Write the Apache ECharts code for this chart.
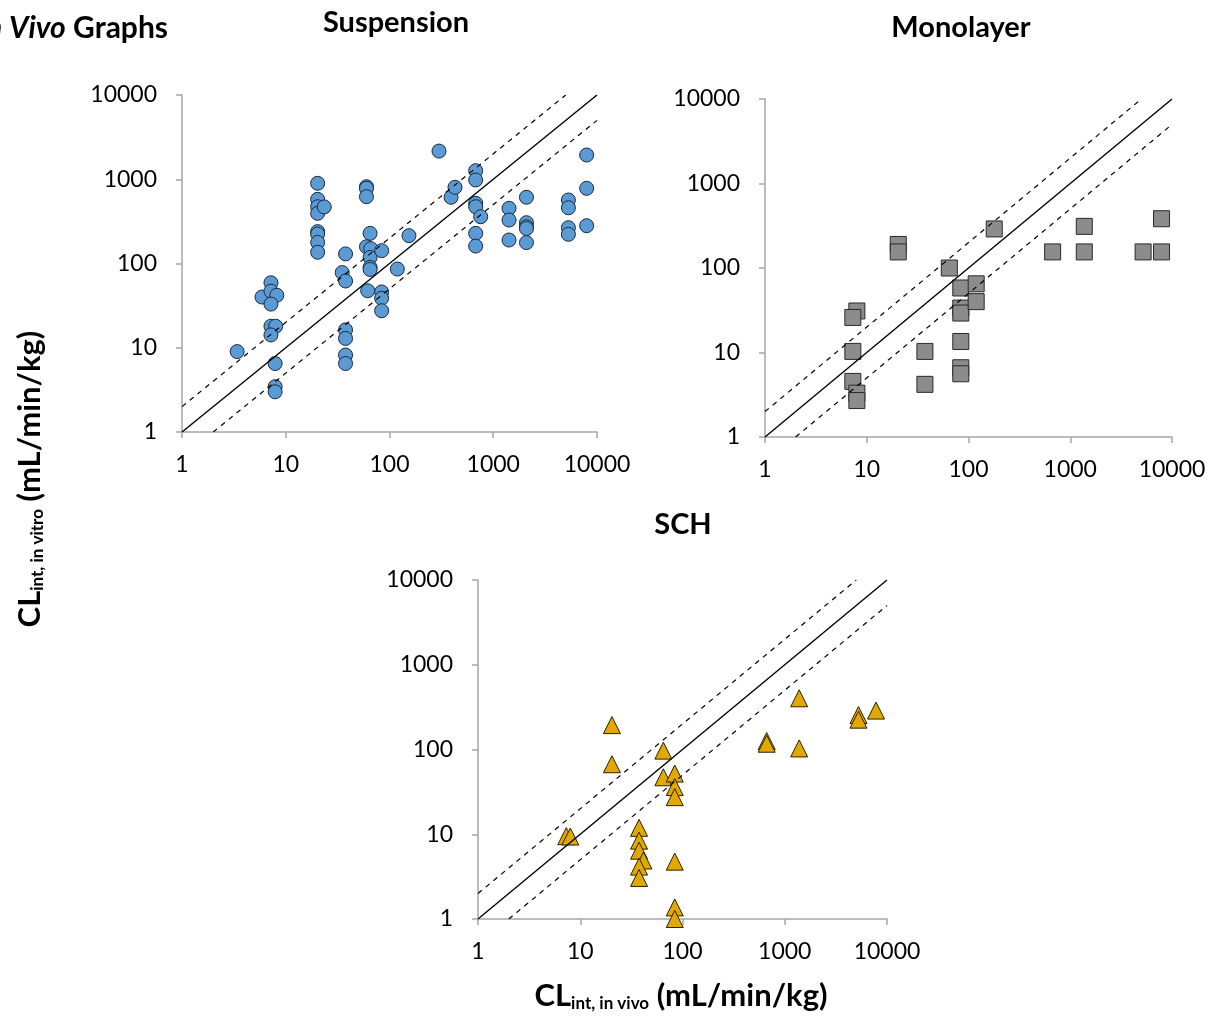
<!DOCTYPE html>
<html>
<head>
<meta charset="utf-8">
<script src="https://cdn.jsdelivr.net/npm/echarts@6/dist/echarts.min.js"></script>
<style>
  html, body { margin: 0; padding: 0; background: #ffffff; }
  #chart { width: 1210px; height: 1016px; }
</style>
</head>
<body>
<div id="chart"></div>
<script>
// CLint in vitro vs CLint in vivo (mL/min/kg), three hepatocyte formats.
// Each point: [in vivo, in vitro]
const suspension = [
  [3.4, 9],
  [5.9, 40], [7.2, 59], [7.2, 47], [8.2, 42], [7.2, 33],
  [7.2, 18], [8.0, 18], [7.2, 14.2],
  [7.9, 6.5], [7.9, 3.45], [7.9, 3.0],
  [20.3, 895], [20.3, 578], [20.3, 472], [20.3, 394], [23.5, 469],
  [20.3, 239], [20.3, 224], [20.3, 178], [20.3, 136],
  [37.7, 130], [35, 78], [37.7, 62], [37.7, 16.3], [37.7, 12.9], [37.7, 8.2], [37.7, 6.5],
  [60, 816], [60, 780], [60, 621], [65, 228], [60, 158], [66, 150], [65, 118], [65, 90], [65, 85],
  [61.6, 47.5], [84, 142], [84, 46], [84, 38.7], [84, 27.5],
  [119, 86], [154, 214], [300, 2160], [392, 611], [428, 802],
  [677, 1264], [677, 980], [677, 518], [677, 472], [757, 359], [677, 228], [677, 161],
  [1419, 452], [1419, 328], [1419, 190],
  [2090, 611], [2090, 305], [2090, 273], [2090, 260], [2090, 177],
  [5300, 567], [5300, 459], [5300, 266], [5300, 222],
  [7950, 1940], [7950, 780], [7950, 281]
];

const monolayer = [
  [8.0, 31], [7.3, 26], [7.3, 10.3], [7.3, 4.55], [8.0, 3.3], [8.0, 2.7],
  [20.4, 190], [20.4, 155],
  [37.3, 10.3], [37.3, 4.2],
  [64.8, 100],
  [84, 58], [84, 33.6], [84, 29.3], [84, 13.5], [84, 6.6], [84, 5.6],
  [119, 65], [119, 40],
  [179, 290],
  [671, 155], [1374, 311], [1374, 155], [5200, 155], [7890, 155], [7890, 383]
];

const sch = [
  [7.3, 9.5], [8.0, 9.4],
  [20.4, 194], [20.4, 67],
  [65, 97], [65, 47], [84, 52], [84, 36], [84, 27.4],
  [37.6, 11.9], [37.6, 8.4], [37.6, 6.4], [41.5, 4.9], [37.6, 4.15], [37.6, 3.05],
  [84, 4.75], [84, 1.37], [84, 1.0],
  [666, 126], [666, 117], [1384, 402], [1384, 103],
  [5260, 255], [5260, 225], [7810, 288]
];

// Line of unity and two-fold bounds
const unityLine = [[1, 1], [10000, 10000]];
const twoFoldUpper = [[1, 2], [5000, 10000]];
const twoFoldLower = [[2, 1], [10000, 5000]];

const axisRange = [1, 10000];
const tickLabels = ['1', '10', '100', '1000', '10000'];
const panelTitles = ['Suspension', 'Monolayer', 'SCH'];

const FONT = 'Lato';

const chart = echarts.init(document.getElementById('chart'), null, { renderer: 'canvas' });

const grids = [
  { left: 182, top: 95, width: 415, height: 337 },
  { left: 765, top: 99, width: 407, height: 338 },
  { left: 478, top: 580, width: 409, height: 339 }
];

function decadeLabel(value) {
  const k = Math.round(Math.log10(value));
  return tickLabels[k] !== undefined ? tickLabels[k] : '';
}

function logAxis(gridIndex, margin) {
  return {
    type: 'log',
    logBase: 10,
    gridIndex: gridIndex,
    min: axisRange[0],
    max: axisRange[1],
    axisLine: { show: true, onZero: false, lineStyle: { color: '#a6a6a6', width: 1.5 } },
    axisTick: { show: true, inside: false, length: 6, lineStyle: { color: '#a6a6a6', width: 1.5 } },
    minorTick: { show: false },
    splitLine: { show: false },
    axisLabel: { fontFamily: FONT, fontSize: 23, color: '#000000', margin: margin, formatter: decadeLabel }
  };
}

const xAxes = grids.map((g, i) => logAxis(i, 21));
const yAxes = grids.map((g, i) => logAxis(i, 25));

function pointSeries(idx, data, symbol, size, fill, stroke) {
  return {
    type: 'scatter',
    xAxisIndex: idx,
    yAxisIndex: idx,
    data: data,
    symbol: symbol,
    symbolSize: size,
    clip: false,
    z: 2,
    itemStyle: { color: fill, borderColor: stroke, borderWidth: 1, opacity: 1 },
    emphasis: { disabled: true }
  };
}

function guideSeries(idx, data, dashed) {
  return {
    type: 'line',
    xAxisIndex: idx,
    yAxisIndex: idx,
    data: data,
    symbol: 'none',
    silent: true,
    z: 5,
    lineStyle: dashed
      ? { color: '#000000', width: 1.2, type: [5, 5] }
      : { color: '#000000', width: 1.4, type: 'solid' }
  };
}

const series = [];
[
  [suspension, 'circle', 14, '#5b9bd5', '#1b2a38'],
  [monolayer, 'rect', 16, '#8c8c8c', '#2a2a2a'],
  [sch, 'triangle', 17, '#e2a800', '#2a2200']
].forEach((cfg, i) => {
  series.push(pointSeries(i, cfg[0], cfg[1], cfg[2], cfg[3], cfg[4]));
  series.push(guideSeries(i, unityLine, false));
  series.push(guideSeries(i, twoFoldUpper, true));
  series.push(guideSeries(i, twoFoldLower, true));
});

// Axis titles with a subscript, laid out from measured text widths
const measureCtx = document.createElement('canvas').getContext('2d');
function textWidth(str, size) {
  measureCtx.font = 'bold ' + size + 'px ' + FONT;
  return measureCtx.measureText(str).width;
}

function subscriptTitle(sub) {
  const parts = [
    { text: 'CL', size: 31, dy: 0 },
    { text: sub, size: 17, dy: 8 },
    { text: ' (mL/min/kg)', size: 31, dy: 0 }
  ];
  const total = parts.reduce((s, p) => s + textWidth(p.text, p.size), 0);
  let x = -total / 2;
  return parts.map(p => {
    const el = {
      type: 'text',
      x: x,
      y: p.dy,
      style: {
        text: p.text,
        font: 'bold ' + p.size + 'px ' + FONT,
        fill: '#000000',
        textAlign: 'left',
        textVerticalAlign: 'middle'
      }
    };
    x += textWidth(p.text, p.size);
    return el;
  });
}

function titleText(str, cx, cy) {
  return {
    type: 'text',
    x: cx,
    y: cy,
    style: {
      text: str,
      font: 'bold 29px ' + FONT,
      fill: '#000000',
      textAlign: 'center',
      textVerticalAlign: 'middle'
    }
  };
}

const graphic = [
  {
    type: 'text',
    x: 168,
    y: 28,
    style: {
      text: '{i|In Vivo} Graphs',
      font: 'bold 30px ' + FONT,
      fill: '#000000',
      textAlign: 'right',
      textVerticalAlign: 'middle',
      rich: { i: { fontStyle: 'italic', fontWeight: 'bold', fontSize: 30, fontFamily: FONT } }
    }
  },
  titleText(panelTitles[0], 396, 23),
  titleText(panelTitles[1], 961, 28),
  titleText(panelTitles[2], 683, 525),
  { type: 'group', x: 681, y: 996, children: subscriptTitle('int, in vivo') },
  { type: 'group', x: 30, y: 479, rotation: Math.PI / 2, children: subscriptTitle('int, in vitro') }
];

chart.setOption({
  animation: false,
  backgroundColor: '#ffffff',
  grid: grids,
  xAxis: xAxes,
  yAxis: yAxes,
  series: series,
  graphic: graphic
});
</script>
</body>
</html>
